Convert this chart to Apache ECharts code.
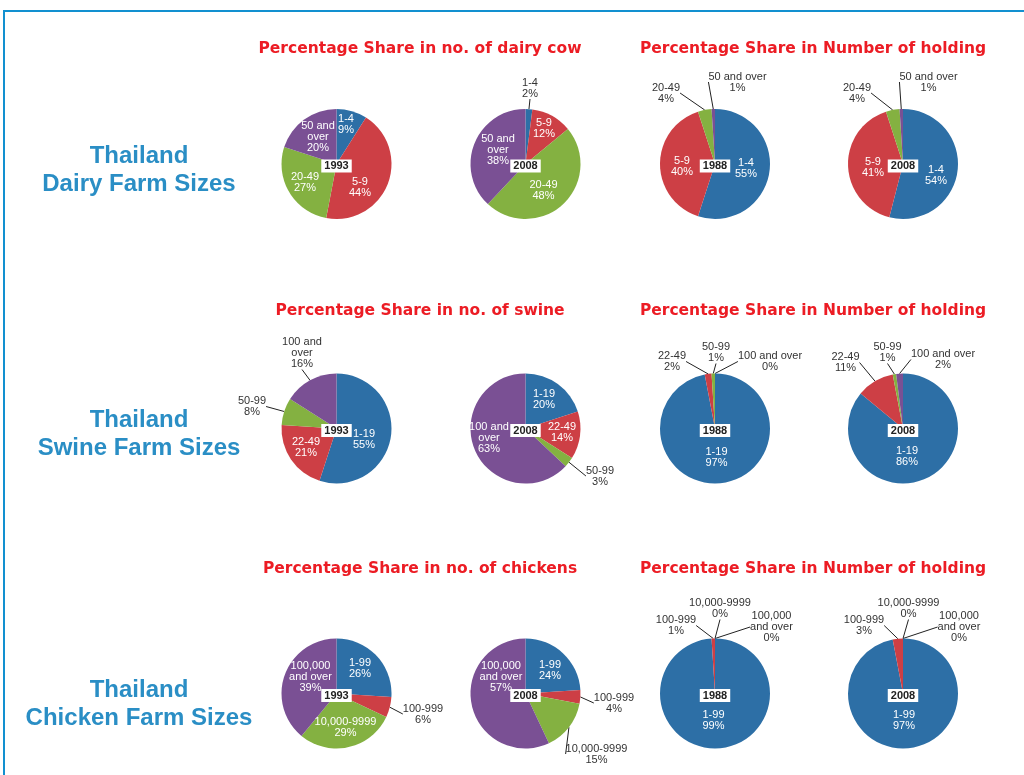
<!DOCTYPE html>
<html>
<head>
<meta charset="utf-8">
<script src="https://cdn.jsdelivr.net/npm/echarts@6/dist/echarts.min.js"></script>
<style>
html,body{margin:0;padding:0;background:#fff;}
#chart{width:1024px;height:775px;}
</style>
</head>
<body>
<div id="chart"></div>
<script>
// ---- data ----
const dairyCats = ['1-4', '5-9', '20-49', '50 and over'];
const swineCats = ['1-19', '22-49', '50-99', '100 and over'];
const chickenCats = ['1-99', '100-999', '10,000-9999', '100,000 and over'];

const dairyCow1993 = [9, 44, 27, 20];
const dairyCow2008 = [2, 12, 48, 38];
const dairyHolding1988 = [55, 40, 4, 1];
const dairyHolding2008 = [54, 41, 4, 1];

const swine1993 = [55, 21, 8, 16];
const swine2008 = [20, 14, 3, 63];
const swineHolding1988 = [97, 2, 1, 0];
const swineHolding2008 = [86, 11, 1, 2];

const chicken1993 = [26, 6, 29, 39];
const chicken2008 = [24, 4, 15, 57];
const chickenHolding1988 = [99, 1, 0, 0];
const chickenHolding2008 = [97, 3, 0, 0];

const rowTitles = ['Thailand\nDairy Farm Sizes', 'Thailand\nSwine Farm Sizes', 'Thailand\nChicken Farm Sizes'];
const leftSectionTitles = ['Percentage Share in no. of dairy cow', 'Percentage Share in no. of swine', 'Percentage Share in no. of chickens'];
const rightSectionTitle = 'Percentage Share in Number of holding';
const yearLabels = ['1993', '2008', '1988', '2008'];

// wrapped forms of long category names
const wrapNames = {
  '50 and over': '50 and\nover',
  '100 and over': '100 and\nover',
  '100,000 and over': '100,000\nand over'
};

// ---- layout / style (not data) ----
const colors = ['#2d6fa6', '#cd3f45', '#84b141', '#7a5094'];
const colX = [336.5, 525.5, 715, 903];
const rowY = [164, 428.5, 693.5];
const R = 55;

// label placement per pie: [dx, dy, outside?, wrap?] relative to pie centre
const labelPlacement = [
  [[9.5, -40, 0, 0], [23.5, 23, 0, 0], [-31.5, 18, 0, 0], [-18.5, -27, 0, 1]],
  [[4.5, -76, 1, 0], [18.5, -36, 0, 0], [18, 26, 0, 0], [-27.5, -14, 0, 1]],
  [[31, 4, 0, 0], [-33, 2, 0, 0], [-49, -71, 1, 0], [22.5, -82, 1, 0]],
  [[33, 11, 0, 0], [-30, 3, 0, 0], [-46, -71, 1, 0], [25.5, -82, 1, 0]],
  [[27.5, 10.5, 0, 0], [-30.5, 18.5, 0, 0], [-84.5, -22, 1, 0], [-34.5, -75.5, 1, 1]],
  [[18.5, -29.5, 0, 0], [36.5, 3.5, 0, 0], [74.5, 47.5, 1, 0], [-36.5, 9.5, 0, 1]],
  [[1.5, 28.5, 0, 0], [-43, -67, 1, 0], [1, -76, 1, 0], [55, -67, 1, 0]],
  [[4, 27.5, 0, 0], [-57.5, -66, 1, 0], [-15.5, -76, 1, 0], [40, -69, 1, 0]],
  [[23.5, -25.5, 0, 0], [86.5, 20.5, 1, 0], [9, 34, 0, 0], [-26, -16.5, 0, 1]],
  [[24.5, -23.5, 0, 0], [88.5, 9.5, 1, 0], [71, 60.5, 1, 0], [-24.5, -16.5, 0, 1]],
  [[-1.5, 27, 0, 0], [-39, -68, 1, 0], [5, -85, 1, 0], [56.5, -66.5, 1, 1]],
  [[1, 27, 0, 0], [-39, -68, 1, 0], [5.5, -85, 1, 0], [56, -66.5, 1, 1]]
];

const pies = [
  [dairyCats, dairyCow1993], [dairyCats, dairyCow2008], [dairyCats, dairyHolding1988], [dairyCats, dairyHolding2008],
  [swineCats, swine1993], [swineCats, swine2008], [swineCats, swineHolding1988], [swineCats, swineHolding2008],
  [chickenCats, chicken1993], [chickenCats, chicken2008], [chickenCats, chickenHolding1988], [chickenCats, chickenHolding2008]
];

const labelFont = 'Arial, "Liberation Sans", sans-serif';

const series = pies.map(function (p, k) {
  const cats = p[0], vals = p[1];
  const cx = colX[k % 4], cy = rowY[Math.floor(k / 4)];
  const place = labelPlacement[k];
  return {
    type: 'pie',
    radius: R,
    center: [cx, cy],
    startAngle: 90,
    clockwise: true,
    avoidLabelOverlap: false,
    silent: true,
    animation: false,
    emphasis: { disabled: true },
    itemStyle: { borderWidth: 0 },
    data: cats.map(function (c, i) {
      const pl = place[i];
      const name = pl[3] ? wrapNames[c] : c;
      return {
        name: c,
        value: vals[i],
        itemStyle: { color: colors[i] },
        label: {
          show: true,
          position: pl[2] ? 'outside' : 'inside',
          formatter: name + '\n' + vals[i] + '%',
          color: pl[2] ? '#333' : '#fff',
          fontSize: 11,
          lineHeight: 11,
          fontFamily: labelFont
        },
        labelLine: {
          show: !!pl[2],
          length: 10,
          length2: 0,
          lineStyle: { color: '#222', width: 1 }
        }
      };
    }),
    labelLayout: function (params) {
      const pl = place[params.dataIndex];
      return { x: cx + pl[0], y: cy + pl[1], align: 'center', verticalAlign: 'middle' };
    }
  };
});

const graphics = [];
// frame
graphics.push({
  type: 'rect', z: 1,
  shape: { x: 4, y: 11, width: 1100, height: 900 },
  style: { fill: 'none', stroke: '#1290d0', lineWidth: 2 }
});
// section titles
const titleFont = 'bold 15.5px "DejaVu Sans", sans-serif';
const titleY = [49, 311, 569];
for (let r = 0; r < 3; r++) {
  graphics.push({
    type: 'text', z: 100,
    style: { text: leftSectionTitles[r], x: 420, y: titleY[r], fill: '#ec1c24', font: titleFont, align: 'center', verticalAlign: 'middle' }
  });
  graphics.push({
    type: 'text', z: 100,
    style: { text: rightSectionTitle, x: 813, y: titleY[r], fill: '#ec1c24', font: titleFont, align: 'center', verticalAlign: 'middle' }
  });
}
// row titles
const rowTitleY = [170, 434, 704.5];
for (let r = 0; r < 3; r++) {
  graphics.push({
    type: 'text', z: 100,
    style: { text: rowTitles[r], x: 139, y: rowTitleY[r], fill: '#2a8ec5', font: 'bold 24px Arial, "Liberation Sans", sans-serif', lineHeight: 28, align: 'center', verticalAlign: 'middle' }
  });
}
// year boxes at pie centres
for (let r = 0; r < 3; r++) {
  for (let c = 0; c < 4; c++) {
    graphics.push({
      type: 'text', z: 100,
      style: {
        text: yearLabels[c], x: colX[c], y: rowY[r] + 2,
        fill: '#222', font: 'bold 11px Arial, "Liberation Sans", sans-serif',
        align: 'center', verticalAlign: 'middle',
        backgroundColor: '#fff', padding: [1, 3, 1, 3]
      }
    });
  }
}

const chart = echarts.init(document.getElementById('chart'), null, { renderer: 'canvas' });
chart.setOption({
  backgroundColor: '#fff',
  animation: false,
  series: series,
  graphic: graphics
});
</script>
</body>
</html>
